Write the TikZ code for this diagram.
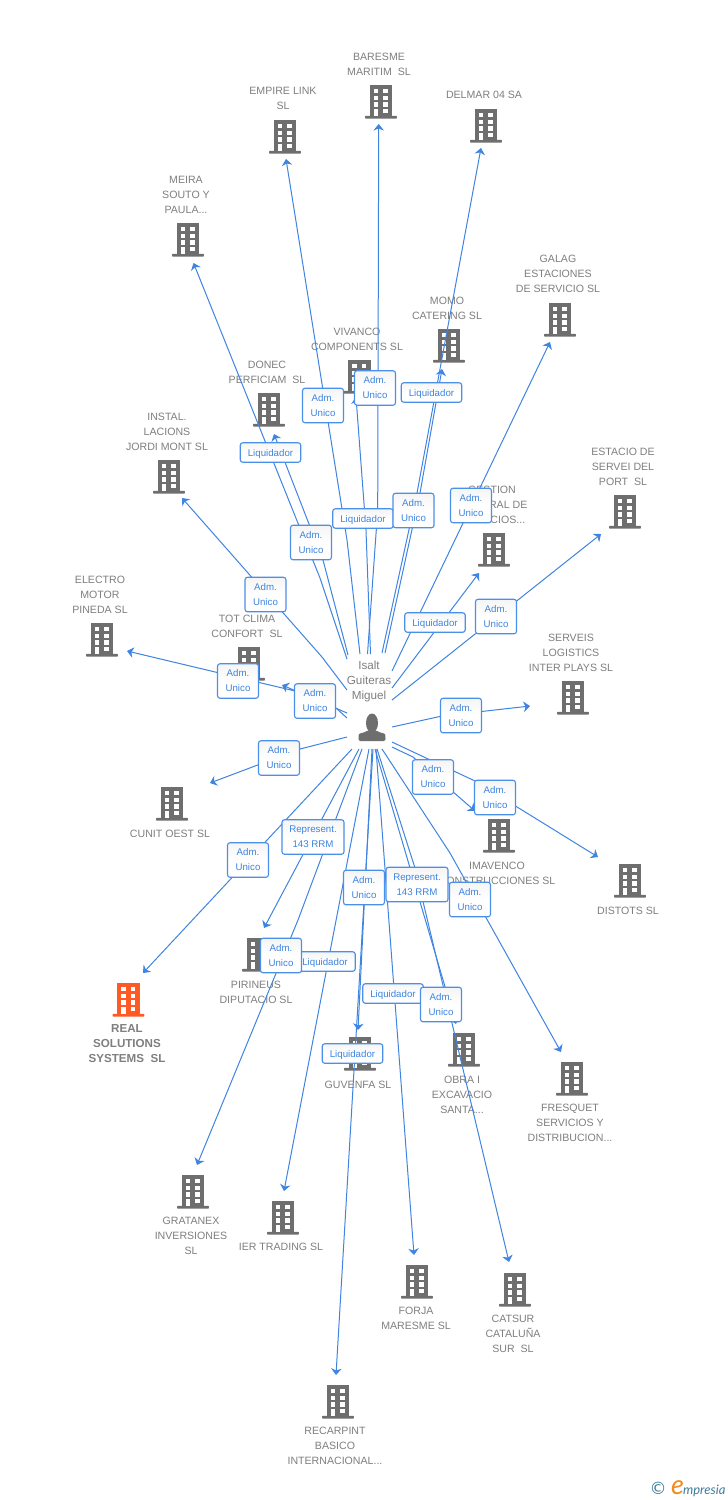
\documentclass[tikz,border=0pt]{standalone}
\usepackage{fontspec}
\setmainfont{Liberation Sans}
\newfontfamily\logofont{Lato}
\usetikzlibrary{arrows.meta}
\definecolor{grayicon}{HTML}{6E6E6E}
\definecolor{graytext}{HTML}{7F7F7F}
\definecolor{linkblue}{HTML}{3F84E0}
\definecolor{tagblue}{HTML}{4A8FE8}
\definecolor{tagtext}{HTML}{3D84E0}
\definecolor{realorange}{HTML}{FF5A26}
\definecolor{logoteal}{HTML}{3E7C9A}
\definecolor{logoorange}{HTML}{F28A1E}
\tikzset{
  x=1pt,y=-1pt,
  linkline/.style={draw=linkblue,line width=1pt,line join=round,-{Stealth[length=6.5pt,width=10.5pt,inset=2pt]}},
  tagbox/.style={draw=tagblue,line width=1.1pt,rounded corners=2.5pt,top color=black!4,bottom color=white,middle color=white,
     text=tagtext,align=center,inner sep=0pt,font=\fontsize{9.7}{15}\selectfont,
     execute at begin node={\rule{0pt}{9pt}}},
  admtag/.style={tagbox,minimum width=41pt,minimum height=34.5pt},
  liqtag/.style={tagbox,minimum width=60.5pt,minimum height=19.5pt},
  reptag/.style={tagbox,minimum width=62pt,minimum height=34.5pt},
  nametext/.style={text=graytext,align=center,inner sep=0pt,anchor=north,font=\fontsize{10.6}{15}\selectfont},
  anchorbox/.style={inner sep=0pt,minimum width=32pt,minimum height=34pt,anchor=north},
  pics/bldg/.style={code={
    \fill[#1] (-11.3,0) rectangle (11.3,32);
    \fill[#1,rounded corners=0.6pt] (-15.8,30.8) rectangle (15.8,33.6);
    \foreach \r in {0,1,2}{
      \fill[white] (-7.3,4+6.7*\r) rectangle (-3,8.2+6.7*\r);
      \fill[white] (2,4+6.7*\r) rectangle (6.7,8.2+6.7*\r);
    }
    \fill[white] (-7.3,24.1) rectangle (-3,30.8);
    \fill[white] (2,24.1) rectangle (6.7,28.3);
  }},
}
\newcommand{\bld}[4][grayicon]{\node[anchorbox] (#2) at (#3,#4) {}; \pic at (#3,#4) {bldg=#1};}
\newcommand{\txt}[4]{\node[nametext] (#1) at (#2,#3-6.7) {\strut #4};}
\newcommand{\lnk}[3]{\coordinate (s#1) at (#2); \coordinate (e#1) at (#3); \draw[linkline] (s#1) -- (e#1);}
\newcommand{\lnkv}[4]{\coordinate (s#1) at (#2); \coordinate (v#1) at (#3); \coordinate (e#1) at (#4); \draw[linkline] (s#1) -- (v#1) -- (e#1);}
\begin{document}
\begin{tikzpicture}
\useasboundingbox (0,0) rectangle (728,1500);
\fill[white] (0,0) rectangle (728,1500);
% buildings
\bld{baresme}{381}{85}
\bld{empire}{285}{120}
\bld{delmar}{486}{109}
\bld{meira}{188}{223}
\bld{galag}{560}{303}
\bld{momo}{449}{329}
\bld{vivanco}{359.5}{360}
\bld{donec}{269}{393}
\bld{instal}{169}{460}
\bld{gestion}{494}{533}
\bld{estacio}{625}{495}
\bld{electro}{102}{623}
\bld{totclima}{249}{647}
\bld{serveis}{573}{681}
\bld{cunit}{172}{787}
\bld{imavenco}{499}{819}
\bld{distots}{630}{864}
\bld{pirineus}{258}{938}
\bld[realorange]{real}{128.5}{983}
\bld{guvenfa}{360}{1037}
\bld{obra}{464}{1033}
\bld{fresquet}{572}{1062}
\bld{gratanex}{193}{1175}
\bld{ier}{283}{1201}
\bld{forja}{417}{1265}
\bld{catsur}{515}{1273}
\bld{recarpint}{338}{1385}
% names
\txt{tbaresme}{379}{56}{BARESME\\MARITIM\ \ SL}
\txt{tempire}{283}{90}{EMPIRE LINK\\SL}
\txt{tdelmar}{484}{94}{DELMAR 04 SA}
\txt{tmeira}{186}{179}{MEIRA\\SOUTO Y\\PAULA...}
\txt{tgalag}{558}{258}{GALAG\\ESTACIONES\\DE SERVICIO SL}
\txt{tmomo}{447}{300}{MOMO\\CATERING SL}
\txt{tvivanco}{357}{331}{VIVANCO\\COMPONENTS SL}
\txt{tdonec}{267}{364}{DONEC\\PERFICIAM\ \ SL}
\txt{tinstal}{167}{416}{INSTAL.\\LACIONS\\JORDI MONT SL}
\txt{tgestion}{492}{489}{GESTION\\INTEGRAL DE\\SERVICIOS...}
\txt{testacio}{623}{451}{ESTACIO DE\\SERVEI DEL\\PORT\ \ SL}
\txt{telectro}{100}{579}{ELECTRO\\MOTOR\\PINEDA SL}
\txt{ttot}{247}{618}{TOT CLIMA\\CONFORT\ \ SL}
\txt{tserveis}{571}{637}{SERVEIS\\LOGISTICS\\INTER PLAYS SL}
\txt{tcunit}{170}{833}{CUNIT OEST SL}
\txt{timavenco}{497}{865}{IMAVENCO\\CONSTRUCCIONES SL}
\txt{tdistots}{628}{910}{DISTOTS SL}
\txt{tpirineus}{256}{984}{PIRINEUS\\DIPUTACIO SL}
\node[nametext,font=\fontsize{11.6}{15}\selectfont\bfseries] (treal) at (127,1021.3) {\strut REAL\\SOLUTIONS\\SYSTEMS\ \ SL};
\txt{tguvenfa}{358}{1084}{GUVENFA SL}
\txt{tobra}{462}{1079}{OBRA I\\EXCAVACIO\\SANTA...}
\txt{tfresquet}{570}{1107}{FRESQUET\\SERVICIOS Y\\DISTRIBUCION...}
\txt{tgratanex}{191}{1220}{GRATANEX\\INVERSIONES\\SL}
\txt{tier}{281}{1246}{IER TRADING SL}
\txt{tforja}{416}{1310}{FORJA\\MARESME SL}
\txt{tcatsur}{513}{1318}{CATSUR\\CATALUÑA\\SUR\ \ SL}
\txt{trecarpint}{335}{1430}{RECARPINT\\BASICO\\INTERNACIONAL...}
% person
\node[nametext,font=\fontsize{11.7}{15}\selectfont] (person) at (369,658.3) {\strut Isalt\\Guiteras\\Miguel};
\fill[grayicon] (372,723) ellipse (6pt and 9.5pt);
\fill[grayicon,rounded corners=2pt] (358.5,741) -- (358.5,736.5) .. controls (359,733) and (364,733) .. (368,730) -- (376,730) .. controls (380,733) and (385,733) .. (385.5,736.5) -- (385.5,741) -- cycle;
% connectors
\lnkv{a}{367.5,654}{377.7,510}{378.7,124}
\lnkv{b}{360,654}{347,540}{286,159}
\lnkv{c}{382,653}{417,493}{481,148}
\lnkv{d}{347,659}{320,578}{193.5,263}
\lnkv{f}{370.5,654}{366,530}{356,397}
\lnkv{g}{385,653}{420,493}{442,369}
\lnkv{h}{348,655}{323,560}{274,434}
\lnk{i}{392,671}{550,342}
\lnk{j}{392,688}{479,573}
\lnk{k}{392,700}{601,534}
\lnkv{l}{392,727}{442,716}{530,706}
\lnkv{m}{392,747}{413,757}{475,811}
\lnkv{n}{392,742}{475,781}{598,857}
\lnkv{o}{382,749}{450,853}{561,1052}
\lnkv{p}{377,749}{415,868}{509,1262}
\lnk{q}{375,749}{456,1024}
\lnk{r}{376,749}{414,1255}
\lnk{u}{372,749}{358,1030}
\lnk{v}{373,749}{336,1375}
\lnk{w}{369,749}{284,1191}
\lnkv{y}{362,749}{298,920}{197,1165}
\lnk{z}{359,749}{264,928}
\lnk{aa}{352,749}{143,973}
\lnkv{ab}{347,737}{300,749}{210,783}
\lnk{ac}{347,713}{282,685}
\coordinate (sad) at (347,718); \coordinate (vad) at (336,708); \coordinate (wad) at (295,691); \coordinate (ead) at (127,651);
\draw[linkline] (sad) -- (vad) -- (wad) -- (ead);
\lnkv{ae}{347,690}{322,657}{182,498}
% tags
\node[admtag] (t1) at (375,388) {Adm.\\Unico};
\node[admtag] (t2) at (323,405.5) {Adm.\\Unico};
\node[liqtag] (t3) at (431.5,392.5) {Liquidador};
\node[liqtag] (t4) at (270.5,452.5) {Liquidador};
\node[admtag] (t5) at (311,542.5) {Adm.\\Unico};
\node[liqtag] (t6) at (363,518.5) {Liquidador};
\node[admtag] (t7) at (413.5,510.5) {Adm.\\Unico};
\node[admtag] (t8) at (471,505.5) {Adm.\\Unico};
\node[liqtag] (t9) at (435,622.5) {Liquidador};
\node[admtag] (t10) at (496,616.5) {Adm.\\Unico};
\node[admtag] (t11) at (265.5,594.5) {Adm.\\Unico};
\node[admtag] (t12) at (238,681) {Adm.\\Unico};
\node[admtag] (t13) at (315,701) {Adm.\\Unico};
\node[admtag] (t14) at (461,715.5) {Adm.\\Unico};
\node[admtag] (t15) at (433,777) {Adm.\\Unico};
\node[admtag] (t16) at (495,797.5) {Adm.\\Unico};
\node[admtag] (t17) at (279,758) {Adm.\\Unico};
\node[reptag] (t18) at (313,837) {Represent.\\143 RRM};
\node[admtag] (t19) at (248,860) {Adm.\\Unico};
\node[admtag] (t20) at (364,887.5) {Adm.\\Unico};
\node[reptag] (t21) at (417,884.5) {Represent.\\143 RRM};
\node[admtag] (t22) at (470,899.5) {Adm.\\Unico};
\node[liqtag] (t24) at (325,961.5) {Liquidador};
\node[admtag] (t23) at (281,955.5) {Adm.\\Unico};
\node[liqtag] (t25) at (393,993.5) {Liquidador};
\node[admtag] (t26) at (441,1004.5) {Adm.\\Unico};
\node[liqtag] (t27) at (352.5,1053.5) {Liquidador};
% logo
\node[text=logoteal,inner sep=0pt,font=\fontsize{17}{17}\selectfont] (lc) at (658,1488.5) {\fontspec{DejaVu Sans}©};
\node[inner sep=0pt,anchor=base west,font=\fontsize{13}{15}\logofont\itshape] (lt) at (671,1494) {\textcolor{logoorange}{\fontsize{27}{27}\selectfont e}\kern-1pt\textcolor{logoteal}{mpresia}};
\end{tikzpicture}
\end{document}
